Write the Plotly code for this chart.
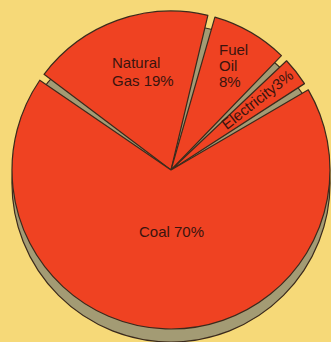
import plotly.graph_objects as go

# Energy sources, listed clockwise from the top of the pie
sources = ["Natural Gas", "Fuel Oil", "Electricity", "Coal"]
shares = [19, 8, 3, 70]

GAP = 0.75         # thin empty wedge between neighbouring slices
RED = "#EF4222"
SHADOW = "#A39B74"
EDGE = "#3B2A1C"
INK = "#3A140E"
BG = "#F6D978"
FONT = "Liberation Sans, Arial, sans-serif"
FS = 15

W, H = 331, 342
R = 159            # pie radius in px
CX, CY = 171, 170  # pie centre in px (from top-left)
DEPTH = 13         # vertical thickness of the pie base

# interleave each slice with a gap wedge
labels, values, colors, widths = [], [], [], []
for i, (name, v) in enumerate(zip(sources, shares)):
    labels += [name, f"gap{i}"]
    values += [v, GAP]
    colors += [RED, "rgba(0,0,0,0)"]
    widths += [1.2, 0]


def dom(cx, cy):
    return dict(x=[(cx - R) / W, (cx + R) / W],
                y=[(H - cy - R) / H, (H - cy + R) / H])


fig = go.Figure()

# base of the pie, seen below the top face and through the gaps
fig.add_trace(go.Pie(
    values=[sum(shares)], labels=["base"], sort=False,
    marker=dict(colors=[SHADOW], line=dict(color=EDGE, width=1.2)),
    textinfo="none", hoverinfo="skip", showlegend=False,
    domain=dom(CX, CY + DEPTH),
))

fig.add_trace(go.Pie(
    labels=labels, values=values, sort=False, direction="clockwise",
    rotation=-53,
    marker=dict(colors=colors, line=dict(color=EDGE, width=widths)),
    textinfo="none", hoverinfo="label+value", showlegend=False,
    domain=dom(CX, CY),
))

# slice captions: (lines, left/centre x px, first-line y px, line step px, anchor, angle)
pct = [f"{v}%" for v in shares]
captions = [
    (["Natural", f"Gas {pct[0]}"], 110, 62, 18, "left", 0),
    (["Fuel", "Oil", pct[1]], 217, 50, 16, "left", 0),
    ([f"Electricity{pct[2]}"], 257, 99, 0, "center", -38),
    ([f"Coal {pct[3]}"], 171.5, 231, 0, "center", 0),
]
for lines, x, y0, step, anchor, ang in captions:
    for k, line in enumerate(lines):
        fig.add_annotation(
            text=line, xref="paper", yref="paper",
            x=x / W, y=1 - (y0 + k * step) / H,
            xanchor=anchor, yanchor="middle", textangle=ang,
            showarrow=False,
            font=dict(family=FONT, size=FS, color=INK),
        )

fig.update_layout(
    width=W, height=H,
    margin=dict(l=0, r=0, t=0, b=0),
    paper_bgcolor=BG, plot_bgcolor=BG,
    showlegend=False,
)

fig.write_html("out.html")
